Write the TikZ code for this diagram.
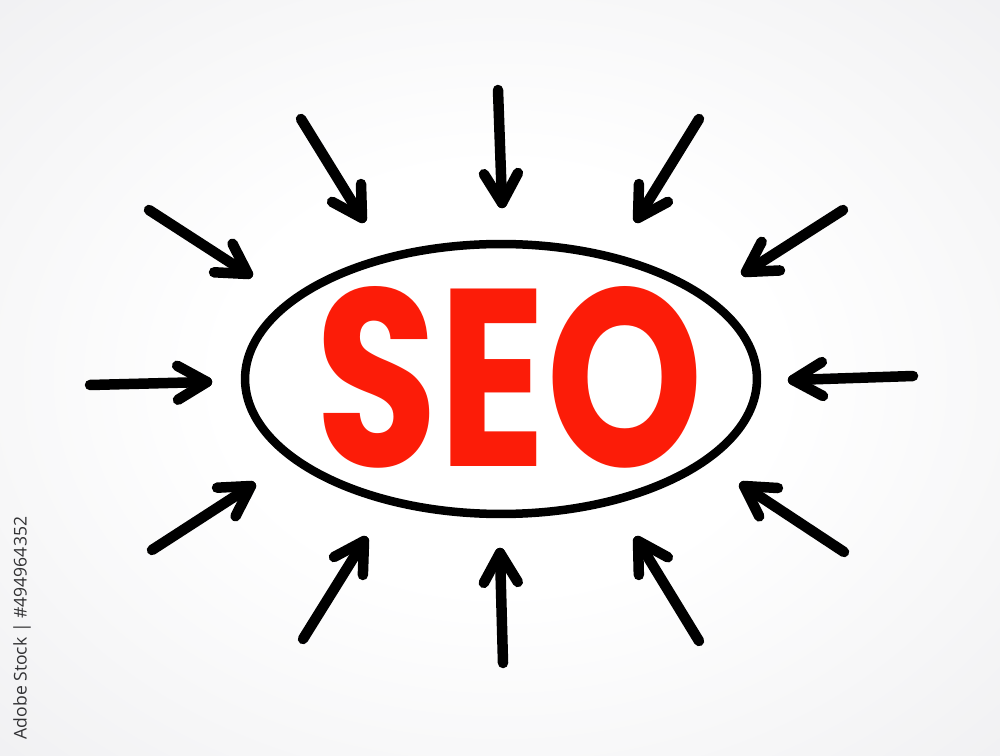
\documentclass[tikz,border=0pt]{standalone}
\usepackage{fontspec}
\usepackage{graphicx}
\usetikzlibrary{calc,shapes.geometric}
\newfontfamily\seofont{Poppins}
\newfontfamily\capfont{Open Sans}
\definecolor{bggray}{RGB}{222,222,226}
\definecolor{seored}{RGB}{252,28,8}
\definecolor{capgray}{RGB}{50,50,52}
\pgfdeclareradialshading{bgshade}{\pgfpoint{0bp}{0bp}}{color(0bp)=(white); color(14bp)=(white); color(64bp)=(bggray)}
\begin{document}
\begin{tikzpicture}[x=0.02cm, y=-0.02cm,
  arrw/.style={line width=0.21cm, line cap=round, line join=round, black},
  ringstyle/.style={ellipse, draw=black, line width=0.17cm, minimum width=10.24cm, minimum height=5.4cm, inner sep=0pt}]
\shade[shading=bgshade] (0,0) rectangle (1000,756);
\useasboundingbox (0,0) rectangle (1000,756);
\node[ringstyle] (seo) at (501,379) {};
\node[inner sep=0pt, text=seored] (seotext) at (509.5,377.5) {\resizebox{7.75cm}{3.6cm}{\seofont\bfseries SEO}};
\node[rotate=90, text=capgray, inner sep=0pt, font=\capfont\fontsize{10}{12}\selectfont] (cap) at (22,628) {Adobe Stock | \#494964352};
\foreach \i/\tx/\ty/\hx/\hy in {
  1/498/90/502/203,
  2/301/119/362/218,
  3/699/119/638/218,
  4/149/210/248/274,
  5/843/210/746/272,
  6/90/385/207/382,
  7/913/376/793/380,
  8/152/550/251/486,
  9/844/552/744/486,
  10/303/639/364/541,
  11/503/663/500/553,
  12/699/641/638/541}{
  \coordinate (t\i) at (\tx,\ty);
  \coordinate (h\i) at (\hx,\hy);
  \coordinate (wa\i) at ($(h\i)!0.68cm!30:(t\i)$);
  \coordinate (wb\i) at ($(h\i)!0.68cm!-30:(t\i)$);
  \draw[arrw] (t\i) -- (h\i);
  \draw[arrw] (wa\i) -- (h\i) -- (wb\i);
}
\end{tikzpicture}
\end{document}
